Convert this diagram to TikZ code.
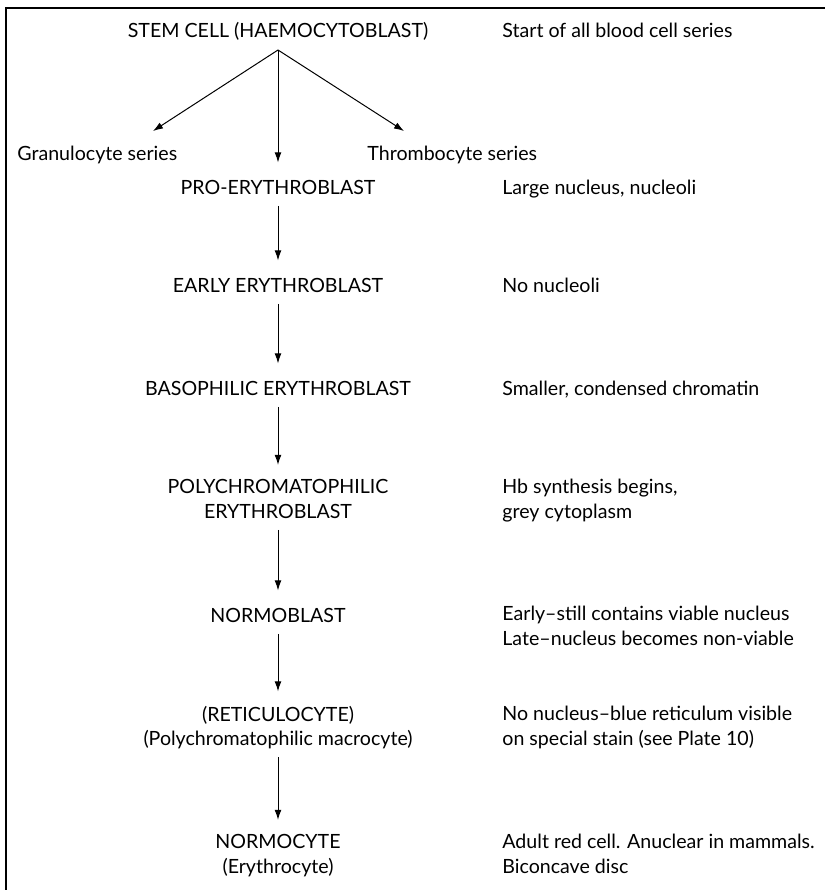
\documentclass[tikz,border=0pt]{standalone}
\usepackage{fontspec}
\setmainfont{Lato}
\usetikzlibrary{arrows.meta,positioning}
\tikzstyle{every node}=[font=\fontsize{9.8}{12.25}\selectfont, inner sep=0pt, execute at begin node=\strut, execute at end node=\strut]
\tikzstyle{cell} = [align=center]
\tikzstyle{note} = [anchor=west, align=left]
\tikzstyle{line} = [draw, line width=0.5pt, -{Latex[length=5pt,width=3.4pt]}, shorten <=2pt, shorten >=7pt]

\begin{document}
\begin{tikzpicture}[x=0.5pt,y=-0.5pt]
    \useasboundingbox (0,0) rectangle (825,890);
    % frame (only top and left edges show)
    \draw[line width=1pt] (6,890) -- (6,8) -- (825,8);

    % stem cell and its branches
    \node[cell] (stem) at (278,32.1) {STEM CELL (HAEMOCYTOBLAST)};
    \node[note] (stemNote) at (502,32.1) {Start of all blood cell series};
    \node[anchor=west] (gran) at (17,155.1) {Granulocyte series};
    \node[anchor=west] (thromb) at (367,155.1) {Thrombocyte series};
    \coordinate (fork) at (278,50);
    \coordinate (granTip) at (153,131);
    \coordinate (thrombTip) at (404,131);

    % erythrocyte series
    \node[cell] (pro) at (278,189.1) {PRO-ERYTHROBLAST};
    \node[note] (proNote) at (502,189.1) {Large nucleus, nucleoli};

    \node[cell] (early) at (278,287.1) {EARLY ERYTHROBLAST};
    \node[note] (earlyNote) at (502,287.1) {No nucleoli};

    \node[cell] (baso) at (278,390.1) {BASOPHILIC ERYTHROBLAST};
    \node[note] (basoNote) at (502,390.1) {Smaller, condensed chromatin};

    \node[cell] (poly) at (278,502.35) {POLYCHROMATOPHILIC\\ERYTHROBLAST};
    \node[note] (polyNote) at (502,502.35) {Hb synthesis begins,\\grey cytoplasm};

    \node[cell] (normo) at (278,617.1) {NORMOBLAST};
    \node[note] (normoNote) at (502,629.35) {Early--still contains viable nucleus\\Late--nucleus becomes non-viable};

    \node[cell] (retic) at (278,729.35) {(RETICULOCYTE)\\(Polychromatophilic macrocyte)};
    \node[note] (reticNote) at (502,729.35) {No nucleus--blue reticulum visible\\on special stain (see Plate 10)};

    \node[cell] (normocyte) at (278,857.35) {NORMOCYTE\\(Erythrocyte)};
    \node[note] (normocyteNote) at (502,857.35) {Adult red cell. Anuclear in mammals.\\Biconcave disc};

    % arrows
    \draw[line, shorten <=0pt, shorten >=0pt] (fork) -- (granTip);
    \draw[line, shorten <=0pt, shorten >=0pt] (fork) -- (thrombTip);
    \draw[line, shorten <=0pt] (fork) -- (pro);
    \foreach \a/\b in {pro/early, early/baso, baso/poly, poly/normo, normo/retic, retic/normocyte}
        \draw[line] (\a) -- (\b);
\end{tikzpicture}
\end{document}
